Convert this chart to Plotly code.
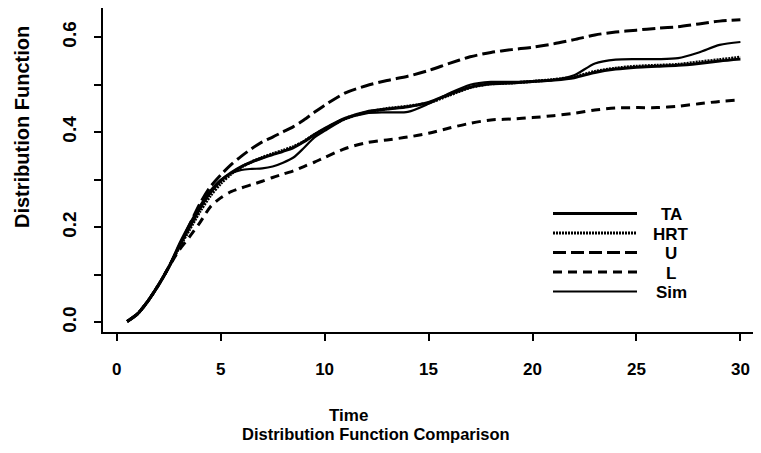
import plotly.graph_objects as go

# ---------------- data ----------------
time = [0.5, 1, 1.5, 2, 2.5, 3, 3.5, 4, 4.5, 5, 5.5, 6, 6.5, 7, 7.5, 8, 8.5, 9, 9.5, 10,
        11, 12, 13, 14, 15, 16, 17, 18, 19, 20, 21, 22, 23, 24, 25, 26, 27, 28, 29, 30]

ta = [0.002, 0.018, 0.045, 0.078, 0.116, 0.160, 0.200, 0.240, 0.273, 0.298, 0.315, 0.328,
      0.338, 0.346, 0.353, 0.360, 0.368, 0.380, 0.395, 0.408,
      0.430, 0.443, 0.449, 0.454, 0.463, 0.480, 0.495, 0.502, 0.504, 0.507,
      0.510, 0.515, 0.526, 0.533, 0.537, 0.539, 0.541, 0.545, 0.550, 0.554]

hrt = [0.002, 0.018, 0.045, 0.078, 0.116, 0.157, 0.195, 0.233, 0.266, 0.292, 0.312, 0.327,
       0.338, 0.347, 0.355, 0.362, 0.370, 0.381, 0.395, 0.407,
       0.429, 0.442, 0.450, 0.455, 0.462, 0.478, 0.494, 0.502, 0.504, 0.507,
       0.511, 0.517, 0.528, 0.535, 0.539, 0.541, 0.543, 0.548, 0.553, 0.558]

upper = [0.002, 0.018, 0.045, 0.078, 0.116, 0.160, 0.205, 0.250, 0.285, 0.310, 0.332, 0.350,
         0.366, 0.380, 0.390, 0.401, 0.412, 0.426, 0.442, 0.457,
         0.483, 0.498, 0.509, 0.518, 0.530, 0.545, 0.559, 0.568, 0.574, 0.579,
         0.586, 0.595, 0.605, 0.611, 0.615, 0.619, 0.622, 0.628, 0.634, 0.637]

lower = [0.002, 0.018, 0.045, 0.078, 0.116, 0.152, 0.180, 0.210, 0.243, 0.262, 0.275, 0.283,
         0.290, 0.297, 0.305, 0.312, 0.319, 0.328, 0.337, 0.347,
         0.366, 0.378, 0.384, 0.390, 0.398, 0.409, 0.419, 0.426, 0.428, 0.431,
         0.435, 0.440, 0.447, 0.451, 0.452, 0.452, 0.455, 0.460, 0.465, 0.468]

sim = [0.002, 0.018, 0.045, 0.078, 0.116, 0.165, 0.207, 0.245, 0.277, 0.300, 0.314, 0.321,
       0.323, 0.324, 0.328, 0.336, 0.347, 0.367, 0.389, 0.403,
       0.428, 0.440, 0.442, 0.443, 0.460, 0.482, 0.500, 0.506, 0.506, 0.507,
       0.510, 0.520, 0.545, 0.553, 0.554, 0.554, 0.556, 0.568, 0.584, 0.590]

series_names = ["TA", "HRT", "U", "L", "Sim"]
x_ticks = [0, 5, 10, 15, 20, 25, 30]
y_ticks = [0.0, 0.2, 0.4, 0.6]
y_tick_labels = ["0.0", "0.2", "0.4", "0.6"]

# ---------------- styling ----------------
# the page body adds an 8px offset, so the figure is laid out in (screen - 8) coords
OFF = 8
W, H = 761 - OFF, 453 - OFF
L_M, R_M, T_M, B_M = 103 - OFF, 0, 0, H - (332 - OFF)
PW, PH = W - L_M - R_M, H - T_M - B_M

NARROW = "Liberation Sans Narrow, Liberation Sans, Arial, sans-serif"
WIDE = "Liberation Sans, Arial, sans-serif"

styles = {
    "TA": dict(width=3, dash="solid"),
    "HRT": dict(width=3, dash="2px,1px"),
    "U": dict(width=3, dash="13px,5px"),
    "L": dict(width=3, dash="9px,6px"),
    "Sim": dict(width=2.2, dash="solid"),
}
values = {"TA": ta, "HRT": hrt, "U": upper, "L": lower, "Sim": sim}


def px(x, y):
    """screen pixel -> paper coordinate"""
    return (x - OFF - L_M) / PW, 1 - (y - OFF - T_M) / PH


fig = go.Figure()
for name in ["L", "U", "HRT", "TA", "Sim"]:
    st = styles[name]
    fig.add_trace(go.Scatter(
        x=time, y=values[name], mode="lines", name=name,
        line=dict(color="black", width=st["width"], dash=st["dash"],
                  shape="spline", smoothing=0.8),
        showlegend=False,
    ))

# legend drawn by hand (long line samples, centred labels)
row_y = [213.5, 233, 252.5, 272, 291.5]
shapes = []
annotations = []
for name, yy in zip(series_names, row_y):
    st = styles[name]
    x0, y0 = px(553, yy)
    x1, _ = px(637, yy)
    shapes.append(dict(type="line", xref="paper", yref="paper", x0=x0, x1=x1, y0=y0, y1=y0,
                       line=dict(color="black", width=st["width"], dash=st["dash"])))
    lx, ly = px(671, yy + 1)
    annotations.append(dict(text=name, xref="paper", yref="paper", x=lx, y=ly,
                            xanchor="center", yanchor="middle", showarrow=False,
                            font=dict(family=NARROW, size=17, color="black", weight="bold")))

# axis titles / subtitle
tx, ty = px(348, 415)
annotations.append(dict(text="Time", xref="paper", yref="paper", x=tx, y=ty,
                        xanchor="center", yanchor="middle", showarrow=False,
                        font=dict(family=NARROW, size=17, color="black", weight="bold")))
sx, sy = px(240, 434)
annotations.append(dict(text="Distribution Function Comparison", xref="paper", yref="paper",
                        x=sx, y=sy, xanchor="left", yanchor="middle", showarrow=False,
                        font=dict(family=NARROW, size=16.5, color="black", weight="bold")))
yx, yy_ = px(22, 127)
annotations.append(dict(text="Distribution Function", xref="paper", yref="paper",
                        x=yx, y=yy_, xanchor="center", yanchor="middle", textangle=-90,
                        showarrow=False,
                        font=dict(family=WIDE, size=20, color="black", weight="bold")))

fig.update_layout(
    template="none",
    width=W, height=H,
    margin=dict(l=L_M, r=R_M, t=T_M, b=B_M, pad=0, autoexpand=False),
    paper_bgcolor="white", plot_bgcolor="white",
    showlegend=False,
    shapes=shapes, annotations=annotations,
    xaxis=dict(range=[-0.66, 30.99], tickvals=x_ticks, ticks="outside", ticklen=7,
               tickwidth=2, tickcolor="black", showline=True, linecolor="black",
               linewidth=2, mirror=True, showgrid=False, zeroline=False,
               automargin=False, ticklabelstandoff=14,
               tickfont=dict(family=NARROW, size=17, color="black", weight="bold")),
    yaxis=dict(range=[-0.0202, 0.6616], tickvals=y_ticks, ticktext=y_tick_labels,
               ticks="outside", ticklen=7, tickwidth=2, tickcolor="black",
               minor=dict(dtick=0.1, tick0=0, ticks="outside", ticklen=7, tickwidth=2,
                          tickcolor="black", showgrid=False),
               showline=True, linecolor="black", linewidth=2, mirror=False,
               showgrid=False, zeroline=False, tickangle=-90, ticklabelstandoff=10,
               automargin=False,
               tickfont=dict(family=WIDE, size=19, color="black", weight="bold")),
)

fig.write_html("out.html")
